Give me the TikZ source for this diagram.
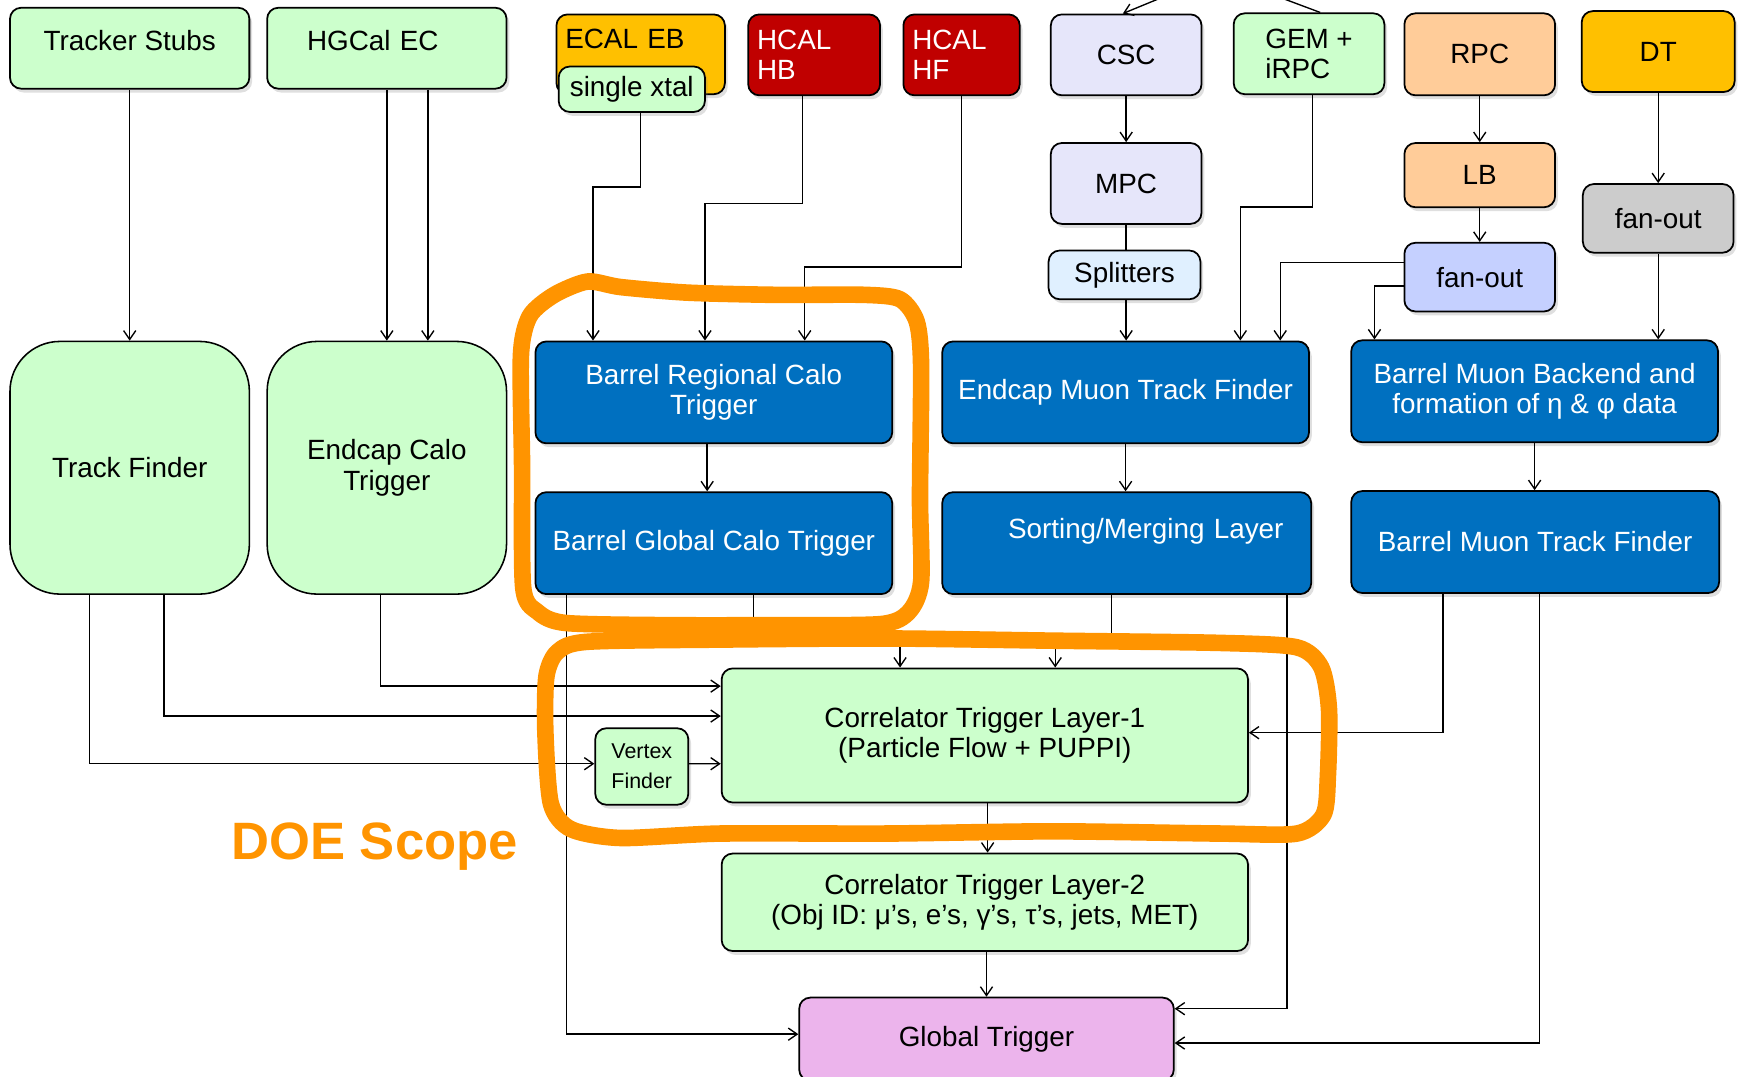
\documentclass[tikz,border=0pt]{standalone}
\usepackage{fontspec}
\setmainfont{Liberation Sans}
\usetikzlibrary{calc,shadows,arrows.meta}

\definecolor{lgreen}{RGB}{204,255,204}
\definecolor{amber}{RGB}{255,192,0}
\definecolor{hcalred}{RGB}{192,0,0}
\definecolor{cscfill}{RGB}{230,230,250}
\definecolor{peach}{RGB}{255,204,153}
\definecolor{fangrey}{RGB}{204,204,204}
\definecolor{splitfill}{RGB}{224,240,255}
\definecolor{fanblue}{RGB}{197,208,255}
\definecolor{tblue}{RGB}{0,112,192}
\definecolor{gtfill}{RGB}{236,180,236}
\definecolor{scopeorange}{RGB}{255,148,0}

\begin{document}
\begin{tikzpicture}[
  x=0.02cm, y=-0.02cm,
  every node/.style={font=\fontsize{14.3}{15.5}\selectfont},
  boxsize/.style 2 args={minimum width=#1, minimum height=#2},
  box/.style={draw, line width=0.9pt, rounded corners=0.2cm, align=center, inner sep=2pt,
    drop shadow={opacity=0.25, shadow xshift=0.05cm, shadow yshift=-0.07cm}},
  green/.style={box, fill=lgreen},
  blue/.style={box, fill=tblue, text=white},
  toptext/.style={inner ysep=0pt, text height=0.78cm, text depth=0.68cm},
  bigbox/.style={draw, line width=0.8pt, fill=lgreen, rounded corners=0.9cm, align=center,
    minimum width=4.32cm, minimum height=4.56cm},
  link/.style={draw, line width=0.7pt},
  arr/.style={link, -{Straight Barb[length=0.16cm, width=0.22cm]}},
  scopeline/.style={draw=scopeorange, line width=0.3cm, line join=round}
]
  \useasboundingbox (0,0) rectangle (1568,971);
  \clip (0,0) rectangle (1568,971);

  \node (stubs) [green, toptext, boxsize={4.32cm}{1.46cm}] at (117,43.5) {Tracker Stubs};
  \node (hgcal) [green, toptext, boxsize={4.32cm}{1.46cm}, align=left, text width=2.88cm,
    inner xsep=0.72cm] at (349,43.5) {HGCal EC};
  \node (ecal) [box, fill=amber, boxsize={3.04cm}{1.44cm}, align=left, text width=2.72cm,
    inner xsep=0.16cm, inner ysep=0pt, text height=0.62cm, text depth=0.82cm] at (578,49) {ECAL EB};
  \node (xtal) [green, boxsize={2.64cm}{0.82cm}] at (570,80.5) {single xtal};
  \node (hb) [box, fill=hcalred, text=white, boxsize={2.38cm}{1.46cm}, align=left,
    text width=2.06cm, inner xsep=0.16cm] at (734.5,49.5) {HCAL\\HB};
  \node (hf) [box, fill=hcalred, text=white, boxsize={2.10cm}{1.46cm}, align=left,
    text width=1.78cm, inner xsep=0.16cm] at (867.5,49.5) {HCAL\\HF};
  \node (csc) [box, fill=cscfill, boxsize={2.72cm}{1.46cm}] at (1016,49.5) {CSC};
  \node (gem) [green, boxsize={2.72cm}{1.46cm}, align=left] at (1181,48.5) {GEM +\\iRPC};
  \node (rpc) [box, fill=peach, boxsize={2.72cm}{1.48cm}] at (1335,49) {RPC};
  \node (dt) [box, fill=amber, boxsize={2.76cm}{1.46cm}] at (1496,46.5) {DT};

  \node (mpc) [box, fill=cscfill, boxsize={2.72cm}{1.46cm}] at (1016,165.5) {MPC};
  \node (split) [box, fill=splitfill, boxsize={2.74cm}{0.88cm}] at (1014.5,248) {Splitters};
  \node (lb) [box, fill=peach, boxsize={2.72cm}{1.16cm}] at (1335,158) {LB};
  \node (fanR) [box, fill=fanblue, boxsize={2.72cm}{1.24cm}] at (1335,250) {fan-out};
  \node (fanD) [box, fill=fangrey, boxsize={2.72cm}{1.24cm}] at (1496,197) {fan-out};

  \node (tf) [bigbox] at (117,422) {Track Finder};
  \node (ect) [bigbox] at (349,422) {Endcap Calo\\Trigger};

  \node (brct) [blue, boxsize={6.44cm}{1.84cm}] at (644,354) {Barrel Regional Calo\\Trigger};
  \node (emtf) [blue, boxsize={6.62cm}{1.84cm}] at (1015.5,354) {Endcap Muon Track Finder};
  \node (bmb) [blue, boxsize={6.62cm}{1.84cm}] at (1384.5,353) {Barrel Muon Backend and\\formation of η \& φ data};
  \node (bgct) [blue, boxsize={6.44cm}{1.84cm}] at (644,490) {Barrel Global Calo Trigger};
  \node (sort) [blue, boxsize={6.66cm}{1.84cm}, align=right, text width=5.66cm,
    inner ysep=0pt, text height=0.84cm, text depth=1.0cm] at (1016.5,490) {Sorting/Merging Layer};
  \node (bmtf) [blue, boxsize={6.64cm}{1.84cm}] at (1385,489) {Barrel Muon Track Finder};

  \node (ctl1) [green, boxsize={9.5cm}{2.42cm}] at (888.5,663.5) {Correlator Trigger Layer-1\\(Particle Flow + PUPPI)};
  \node (vf) [green, boxsize={1.68cm}{1.38cm}, font=\fontsize{11}{15.3}\selectfont] at (579,691.5) {Vertex\\Finder};
  \node (ctl2) [green, boxsize={9.5cm}{1.76cm}] at (888.5,814) {Correlator Trigger Layer-2\\(Obj ID: μ’s, e’s, γ’s, τ’s, jets, MET)};
  \node (gt) [box, fill=gtfill, boxsize={6.76cm}{1.5cm}] at (890,937.5) {Global Trigger};

  \node (doe) [text=scopeorange, font=\bfseries\fontsize{27}{30}\selectfont] at (338,764) {DOE Scope};

  \coordinate (topA) at (1050,-3);
  \coordinate (topB) at (1153,-3);
  \draw[arr] (topA) -- ($(csc.north)+(-3,0)$);
  \draw[link] ($(gem.north)+(10,0)$) -- (topB);

  \draw[arr] (stubs.south) -- (tf.north);
  \draw[arr] (hgcal.south) -- (ect.north);
  \draw[arr] ($(hgcal.south)+(37,0)$) -- ($(ect.north)+(37,0)$);
  \draw[arr] ($(xtal.south)+(8,0)$) -- ++(0,67) -| ($(brct.north)+(-109,0)$);
  \draw[arr] ($(hb.south)+(-10.5,0)$) -- ++(0,97) -| ($(brct.north)+(-8,0)$);
  \draw[arr] (hf.south) -- ++(0,154) -| ($(brct.north)+(82,0)$);
  \draw[arr] (csc.south) -- (mpc.north);
  \draw[link] (mpc.south) -- (mpc.south |- split.north);
  \draw[arr] (split.south -| mpc) -- (emtf.north -| mpc);
  \draw[arr] ($(gem.south)+(3,0)$) -- ++(0,101) -| ($(emtf.north)+(103.5,0)$);
  \draw[arr] (rpc.south) -- (lb.north);
  \draw[arr] (lb.south) -- (fanR.north);
  \draw[arr] ($(fanR.west)+(0,-13)$) -| ($(emtf.north)+(139.5,0)$);
  \draw[arr] ($(fanR.west)+(0,8)$) -| ($(bmb.north)+(-144.5,0)$);
  \draw[arr] (dt.south) -- (fanD.north);
  \draw[arr] (fanD.south) -- (fanD.south |- bmb.north);

  \draw[arr] ($(brct.south)+(-6,0)$) -- ($(bgct.north)+(-6,0)$);
  \draw[arr] (emtf.south) -- (emtf.south |- sort.north);
  \draw[arr] (bmb.south) -- (bmb.south |- bmtf.north);

  \draw[arr] ($(bgct.south)+(36,0)$) -- ++(0,36) -| ($(ctl1.north)+(-76.5,0)$);
  \draw[arr] ($(sort.south)+(-13.5,0)$) -- ++(0,36) -| ($(ctl1.north)+(63.5,0)$);
  \draw[arr] ($(ect.south)+(-6,0)$) |- ($(ctl1.west)+(0,-44.5)$);
  \draw[arr] ($(tf.south)+(31,0)$) |- ($(ctl1.west)+(0,-17.5)$);
  \draw[arr] ($(tf.south)+(-36,0)$) |- ($(vf.west)+(0,-2.5)$);
  \draw[arr] ($(vf.east)+(0,-2.5)$) -- ($(ctl1.west)+(0,25.5)$);
  \draw[arr] ($(bmtf.south)+(-83,0)$) |- ($(ctl1.east)+(0,-2.5)$);
  \draw[arr] ($(ctl1.south)+(2.5,0)$) -- ($(ctl2.north)+(2.5,0)$);
  \draw[arr] (ctl2.south -| gt) -- (gt.north);
  \draw[arr] ($(bgct.south)+(-133,0)$) |- ($(gt.west)+(0,-4.5)$);
  \draw[arr] ($(sort.south)+(144.5,0)$) |- ($(gt.east)+(0,-27.5)$);
  \draw[arr] ($(bmtf.south)+(4,0)$) |- ($(gt.east)+(0,3.5)$);

  \draw[scopeline] plot[smooth cycle, tension=0.45] coordinates {
    (471,420) (470,320) (478,285) (500,266) (530,254) (560,259) (620,264) (700,266)
    (780,266) (812,270) (827,290) (831,330) (830,450) (831,525) (820,552) (795,563)
    (700,564) (600,564) (510,562) (485,552) (472,530)};
  \draw[scopeline] plot[smooth cycle, tension=0.45] coordinates {
    (492,660) (493,610) (503,588) (530,579) (650,577) (800,576) (950,578) (1100,580)
    (1170,584) (1192,602) (1199,640) (1198,700) (1194,735) (1170,752) (1100,752)
    (950,750) (800,752) (650,752) (560,756) (515,748) (497,725)};

\end{tikzpicture}
\end{document}
